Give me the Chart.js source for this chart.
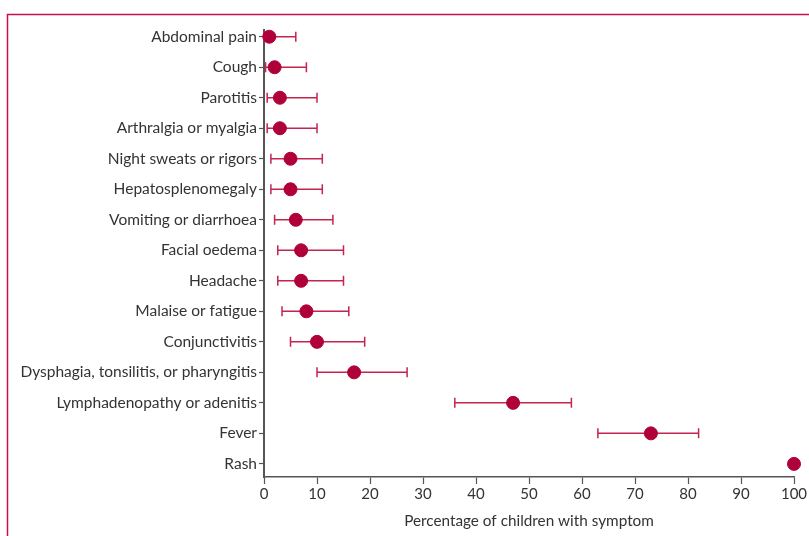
<!DOCTYPE html>
<html>
<head>
<meta charset="utf-8">
<script src="https://cdn.jsdelivr.net/npm/chart.js@4"></script>
<style>
  html, body { margin: 0; padding: 0; background: #fff; }
  #wrap { width: 809px; height: 536px; }
</style>
</head>
<body>
<div id="wrap"><canvas id="myChart" width="809" height="536"></canvas></div>
<script>
const symptoms = [
  "Abdominal pain", "Cough", "Parotitis", "Arthralgia or myalgia",
  "Night sweats or rigors", "Hepatosplenomegaly", "Vomiting or diarrhoea",
  "Facial oedema", "Headache", "Malaise or fatigue", "Conjunctivitis",
  "Dysphagia, tonsilitis, or pharyngitis", "Lymphadenopathy or adenitis",
  "Fever", "Rash"
];
const estimate = [1, 2, 3, 3, 5, 5, 6, 7, 7, 8, 10, 17, 47, 73, 100];
const lower =    [0, 0.3, 0.6, 0.6, 1.3, 1.3, 2, 2.6, 2.6, 3.4, 5, 10, 36, 63, 100];
const upper =    [6, 8, 10, 10, 11, 11, 13, 15, 15, 16, 19, 27, 58, 82, 100];
const xTicks = [0, 10, 20, 30, 40, 50, 60, 70, 80, 90, 100];

const dotColor = "#b0003a";
const barColor = "#c4244f";
const axisColor = "#555555";
const textColor = "#333333";

// frame lines round the figure
const framePlugin = {
  id: "frame",
  beforeDraw: (chart) => {
    const { ctx } = chart;
    ctx.save();
    ctx.strokeStyle = "#c8104a";
    ctx.lineWidth = 1.5;
    ctx.beginPath();
    ctx.moveTo(809, 14.5);
    ctx.lineTo(7.5, 14.5);
    ctx.lineTo(7.5, 536);
    ctx.stroke();
    ctx.restore();
  }
};

// confidence interval whiskers
const errorBars = {
  id: "errorBars",
  beforeDatasetsDraw: (chart) => {
    const { ctx, scales } = chart;
    ctx.save();
    ctx.strokeStyle = barColor;
    ctx.lineWidth = 1.5;
    symptoms.forEach((s, i) => {
      if (lower[i] === upper[i]) return;
      const y = scales.y.getPixelForValue(i);
      const x1 = scales.x.getPixelForValue(lower[i]);
      const x2 = scales.x.getPixelForValue(upper[i]);
      ctx.beginPath();
      ctx.moveTo(x1, y);
      ctx.lineTo(x2, y);
      ctx.moveTo(x1, y - 5);
      ctx.lineTo(x1, y + 5);
      ctx.moveTo(x2, y - 5);
      ctx.lineTo(x2, y + 5);
      ctx.stroke();
    });
    ctx.restore();
  }
};

const chartCtx = document.getElementById("myChart").getContext("2d");
const chart = new Chart(chartCtx, {
  type: "scatter",
  data: {
    datasets: [{
      data: estimate.map((v, i) => ({ x: v, y: i })),
      backgroundColor: dotColor,
      borderColor: dotColor,
      pointRadius: 6.5,
      pointHoverRadius: 6.5,
      clip: false
    }]
  },
  options: {
    responsive: false,
    animation: false,
    layout: { padding: { left: 0, right: 15, top: 30, bottom: 0 } },
    plugins: {
      legend: { display: false },
      tooltip: { enabled: false }
    },
    scales: {
      x: {
        type: "linear",
        min: 0,
        max: 100,
        afterBuildTicks: (axis) => { axis.ticks = xTicks.map(v => ({ value: v })); },
        afterFit: (scale) => { scale.height = 59; },
        grid: { drawOnChartArea: false, color: axisColor, tickLength: 7, tickWidth: 1.2 },
        border: { color: axisColor, width: 1.5 },
        ticks: {
          color: textColor,
          font: { family: "Lato", size: 15 },
          padding: 1,
          maxRotation: 0
        },
        title: {
          display: true,
          text: "Percentage of children with symptom",
          color: textColor,
          font: { family: "Lato", size: 15.3 },
          padding: { top: 4, bottom: 6 }
        }
      },
      y: {
        type: "linear",
        reverse: true,
        min: -0.22,
        max: 14.43,
        afterBuildTicks: (axis) => { axis.ticks = symptoms.map((s, i) => ({ value: i })); },
        afterFit: (scale) => { scale.width = 264; },
        grid: { drawOnChartArea: false, color: axisColor, tickLength: 5, tickWidth: 1.2 },
        border: { color: axisColor, width: 2 },
        ticks: {
          color: textColor,
          font: { family: "Lato", size: 15.5 },
          padding: 2,
          callback: (v) => symptoms[v]
        }
      }
    }
  },
  plugins: [framePlugin, errorBars]
});
</script>
</body>
</html>
